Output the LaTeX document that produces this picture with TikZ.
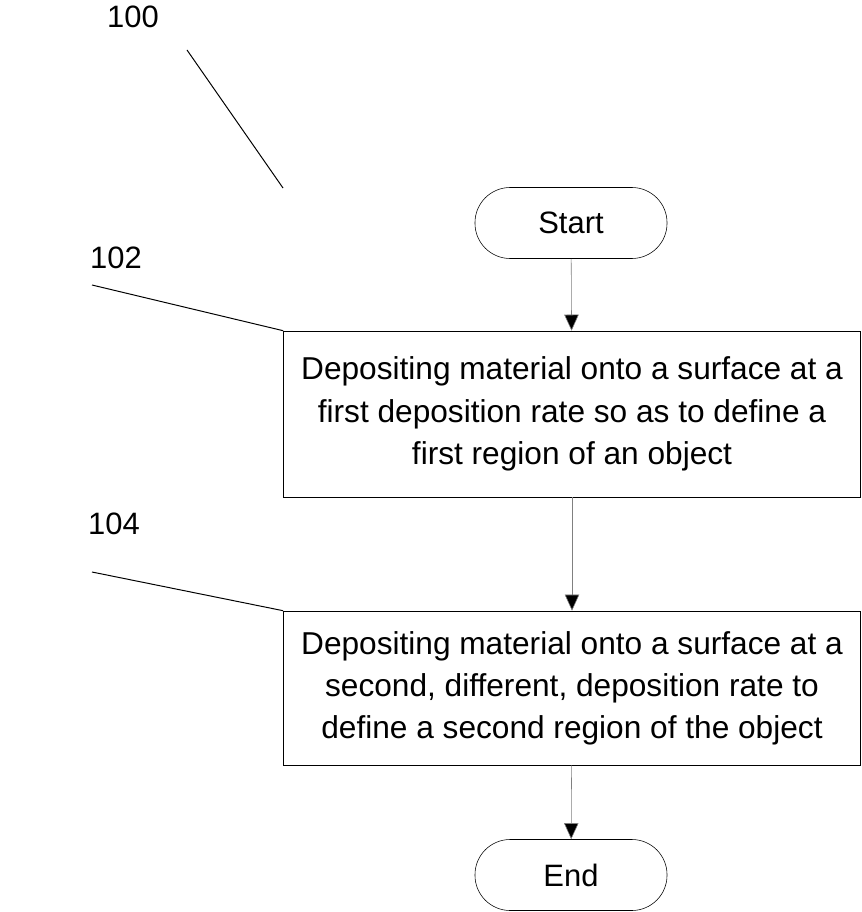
\documentclass[tikz,border=0pt]{standalone}
\usepackage{fontspec}
\setmainfont{Liberation Sans}
\usepackage{tikz}
\usetikzlibrary{arrows.meta}
\tikzset{
  term/.style={draw, rounded corners=0.88cm, minimum width=4.8cm, minimum height=1.775cm, font=\fontsize{22}{30}\selectfont},
  stepbox/.style={draw, minimum width=14.425cm, align=center, font=\fontsize{22.5}{30}\selectfont},
  flow/.style={draw=gray, -{Triangle[length=0.4cm, width=0.36cm, fill=black]}},
  lead/.style={draw=black, line width=0.7pt},
  refnum/.style={font=\fontsize{22}{30}\selectfont}
}
\begin{document}
\begin{tikzpicture}[x=0.025cm, y=-0.025cm]
        \useasboundingbox (0,0) rectangle (861,912);
        % Draw the terminals and steps
        \node[term] (start) at (571,223) {Start};
        \node[stepbox, minimum height=4.15cm] (s102) at (572,414) {Depositing material onto a surface at a\\ first deposition rate so as to define a\\ first region of an object};
        \node[stepbox, minimum height=3.85cm] (s104) at (572,688) {Depositing material onto a surface at a\\ second, different, deposition rate to\\ define a second region of the object};
        \node[term] (end) at (571,875) {End};
        % Draw arrows
        \draw[flow] (start) -- (s102);
        \draw[flow] (s102) -- (s104);
        \draw[flow] (s104) -- (end);
        % Reference numerals
        \node[refnum] (n100) at (133,17) {100};
        \node[refnum] (n102) at (116,258) {102};
        \node[refnum] (n104) at (114,524) {104};
        \coordinate (c100a) at (187,50);
        \coordinate (c100b) at (283,188);
        \coordinate (c102) at (92,285);
        \coordinate (c104) at (92,572);
        \draw[lead] (c100a) -- (c100b);
        \draw[lead] (c102) -- (s102.north west);
        \draw[lead] (c104) -- (s104.north west);
\end{tikzpicture}
\end{document}
